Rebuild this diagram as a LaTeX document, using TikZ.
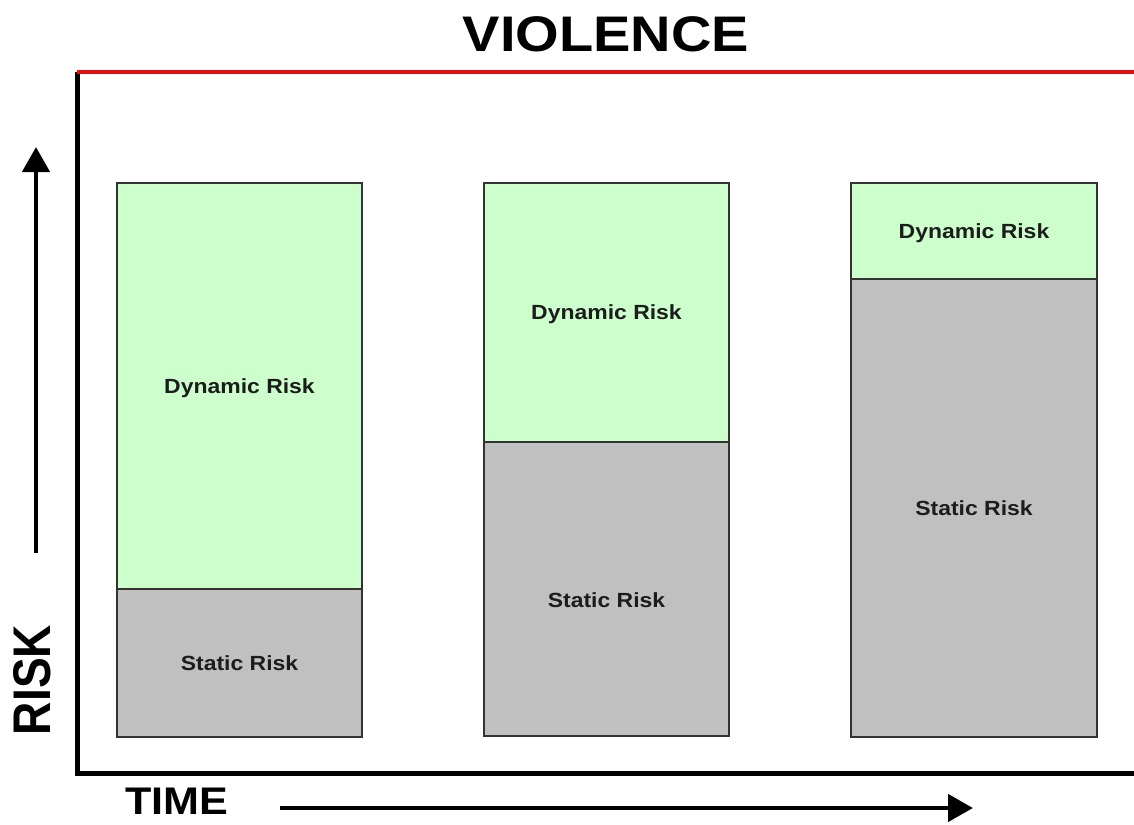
\documentclass[tikz,border=0pt]{standalone}
\usepackage{fontspec}
\setmainfont[FakeStretch=1.12]{Liberation Sans}
\newfontfamily\riskfont[FakeStretch=0.87]{Liberation Sans}
\usetikzlibrary{arrows.meta}

\definecolor{dyngreen}{HTML}{CCFFCC}
\definecolor{statgray}{HTML}{C0C0C0}
\definecolor{edgegray}{HTML}{333333}
\definecolor{linered}{HTML}{E01010}
\definecolor{labeltext}{HTML}{1C1C1C}

\begin{document}
\begin{tikzpicture}[x=1pt, y=-1pt,
    block/.style={draw=edgegray, line width=1.5pt, inner sep=0pt, outer sep=0pt, anchor=north west},
    dynblock/.style={block, fill=dyngreen},
    statblock/.style={block, fill=statgray},
    lbl/.style={font=\bfseries\fontsize{20.5}{24}\selectfont, text=labeltext, text depth=0pt},
    axis/.style={line width=5pt},
    bigarrow/.style={line width=4.5pt, -{Triangle[length=25pt, width=27pt]}}]
    \useasboundingbox (0,0) rectangle (1134,824);

    \node[inner sep=0pt] (title) at (606,34) {\bfseries\fontsize{50}{60}\selectfont VIOLENCE};

    % axes
    \coordinate (ytop) at (77,72);
    \coordinate (origin) at (77,773);
    \coordinate (xend) at (1134,773);
    \coordinate (redend) at (1134,72);
    \draw[axis] (ytop) -- (origin) -- (xend);
    \draw[line width=4.5pt, linered] (ytop) -- (redend);

    \coordinate (riskfoot) at (36,553);
    \coordinate (risktip) at (36,147);
    \draw[bigarrow] (riskfoot) -- (risktip);
    \node[rotate=90, inner sep=0pt] (risk) at (32,680) {\riskfont\bfseries\fontsize{53}{60}\selectfont RISK};

    \node[inner sep=0pt] (time) at (177,801) {\bfseries\fontsize{38.5}{46}\selectfont TIME};
    \coordinate (timefoot) at (280,808);
    \coordinate (timetip) at (973,808);
    \draw[bigarrow] (timefoot) -- (timetip);

    % bars
    \node[dynblock, minimum width=245pt, minimum height=406pt] (dyn1) at (117,183) {};
    \node[statblock, minimum width=245pt, minimum height=148pt] (stat1) at (117,589) {};
    \node[dynblock, minimum width=245pt, minimum height=259pt] (dyn2) at (484,183) {};
    \node[statblock, minimum width=245pt, minimum height=294pt] (stat2) at (484,442) {};
    \node[dynblock, minimum width=246pt, minimum height=96pt] (dyn3) at (851,183) {};
    \node[statblock, minimum width=246pt, minimum height=458pt] (stat3) at (851,279) {};

    \node[lbl] (dynlbl1) at (dyn1.center) {Dynamic Risk};
    \node[lbl] (statlbl1) at (stat1.center) {Static Risk};
    \node[lbl] (dynlbl2) at (dyn2.center) {Dynamic Risk};
    \node[lbl, yshift=-11pt] (statlbl2) at (stat2.center) {Static Risk};
    \node[lbl] (dynlbl3) at (dyn3.center) {Dynamic Risk};
    \node[lbl] (statlbl3) at (stat3.center) {Static Risk};
\end{tikzpicture}
\end{document}
